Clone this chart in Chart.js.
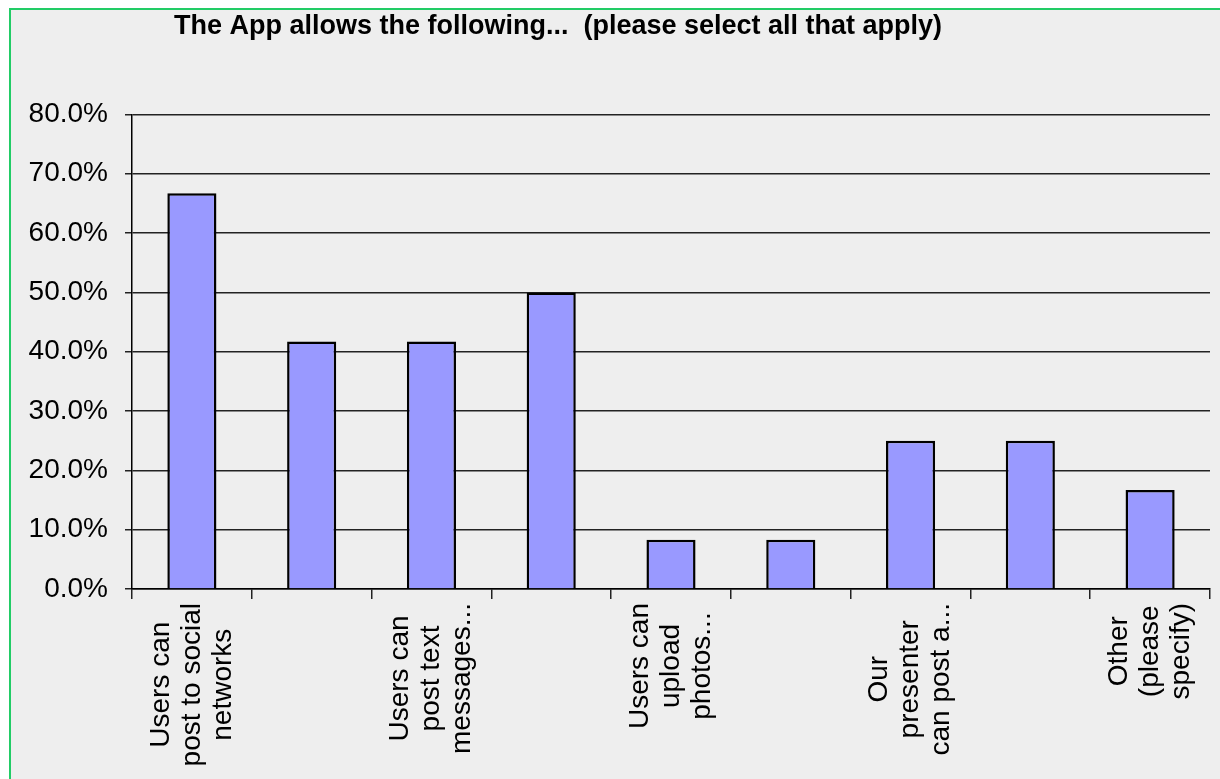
<!DOCTYPE html>
<html>
<head>
<meta charset="utf-8">
<script src="https://cdn.jsdelivr.net/npm/chart.js@4/dist/chart.umd.min.js"></script>
<style>
  html, body { margin: 0; padding: 0; background: #ffffff; width: 1220px; height: 779px; overflow: hidden; }
  #frame { position: absolute; left: 9px; top: 8px; width: 1220px; height: 780px;
           border-left: 2px solid #22CC66; border-top: 2px solid #22CC66; background: #EEEEEE; }
  #wrap { position: absolute; left: 0; top: 0; width: 1220px; height: 779px; }
</style>
</head>
<body>
<div id="frame"></div>
<div id="wrap"><canvas id="c" width="1220" height="779"></canvas></div>
<script>
// ---- data ----
const titleText = "The App allows the following...  (please select all that apply)";
const categories = [
  ["Users can", "post to social", "networks"],
  "",
  ["Users can", "post text", "messages..."],
  "",
  ["Users can", "upload", "photos..."],
  "",
  ["Our", "presenter", "can post a..."],
  "",
  ["Other", "(please", "specify)"]
];
const values = [66.7, 41.7, 41.7, 50.0, 8.3, 8.3, 25.0, 25.0, 16.7];
const yTicks = [0, 10, 20, 30, 40, 50, 60, 70, 80];

const FONT = "'Liberation Sans', Arial, sans-serif";

// Draws the x-axis category labels rotated, with lines centred on each other
const xLabelPlugin = {
  id: 'xLabels',
  afterDraw(chart) {
    const xs = chart.scales.x;
    const ctx = chart.ctx;
    ctx.save();
    ctx.font = "28px " + FONT;
    ctx.fillStyle = "#000";
    ctx.textAlign = "center";
    ctx.textBaseline = "middle";
    const lh = 31;
    const top = 603;
    chart.data.labels.forEach((lab, i) => {
      const lines = Array.isArray(lab) ? lab : (lab ? [lab] : []);
      if (!lines.length) return;
      const x = xs.getPixelForValue(i);
      const maxW = Math.max(...lines.map(l => ctx.measureText(l).width));
      ctx.save();
      ctx.translate(x, top + maxW / 2);
      ctx.rotate(-Math.PI / 2);
      const n = lines.length;
      lines.forEach((l, k) => ctx.fillText(l, 0, (k - (n - 1) / 2) * lh));
      ctx.restore();
    });
    ctx.restore();
  }
};

// shift the title box so it is centred where the reference has it
const titlePlace = {
  id: 'titlePlace',
  afterLayout(chart) {
    const t = chart.titleBlock;
    if (t) { t.left = 0; t.right = 1116; }
  }
};

new Chart(document.getElementById('c'), {
  type: 'bar',
  data: {
    labels: categories,
    datasets: [{
      data: values,
      backgroundColor: '#9999FF',
      borderColor: '#000000',
      borderWidth: 2.5,
      barPercentage: 0.41,
      categoryPercentage: 1.0
    }]
  },
  options: {
    responsive: false,
    animation: false,
    layout: { padding: { left: 0, right: 10, top: 0, bottom: 0 } },
    plugins: {
      legend: { display: false },
      tooltip: { enabled: false },
      title: {
        display: true,
        text: titleText,
        color: '#000',
        font: { family: FONT, size: 27, weight: 'bold' },
        padding: { top: 10, bottom: 72 }
      }
    },
    scales: {
      x: {
        type: 'category',
        offset: true,
        grid: { display: true, drawOnChartArea: false, drawTicks: true, tickLength: 10, color: '#222', lineWidth: 1.5, offset: true },
        border: { display: true, color: '#000', width: 1.5 },
        ticks: { display: false, autoSkip: false },
        afterFit(scale) { scale.height = 190; }
      },
      y: {
        min: 0, max: 80,
        afterBuildTicks(scale) { scale.ticks = yTicks.map(v => ({ value: v })); },
        grid: { color: '#222', lineWidth: 1.5, tickLength: 7, drawTicks: true },
        border: { display: true, color: '#000', width: 1.5 },
        ticks: {
          color: '#000',
          padding: 17,
          font: { family: FONT, size: 28 },
          callback: v => v.toFixed(1) + '%'
        },
        afterFit(scale) { scale.width = 132; }
      }
    }
  },
  plugins: [xLabelPlugin, titlePlace]
});
</script>
</body>
</html>
